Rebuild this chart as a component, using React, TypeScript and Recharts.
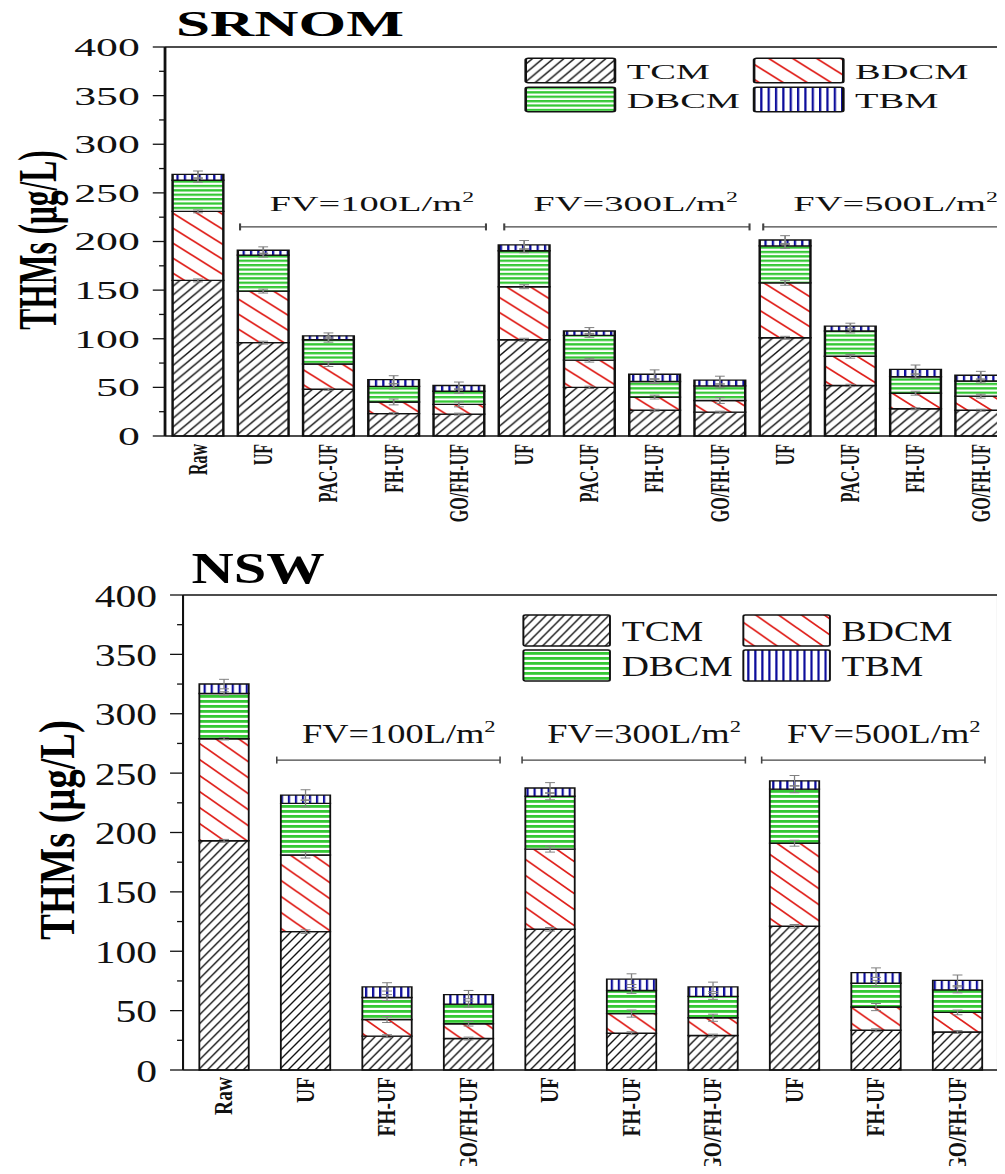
import React from 'react';
import { BarChart, Bar, XAxis, YAxis, ErrorBar, Legend, ReferenceLine } from 'recharts';

const serif = '"Liberation Serif", "DejaVu Serif", serif';

// SRNOM panel (top)
const srnomLabels = ['Raw', 'UF', 'PAC-UF', 'FH-UF', 'GO/FH-UF', 'UF', 'PAC-UF', 'FH-UF', 'GO/FH-UF', 'UF', 'PAC-UF', 'FH-UF', 'GO/FH-UF'];
const srnomTCM = [160, 96, 48, 23, 22.5, 99, 50, 26.5, 24.5, 101, 52, 28, 26.5];
const srnomBDCM = [71, 53, 26, 12, 10, 54.5, 28, 13.5, 12, 56.5, 30, 16, 14.5];
const srnomDBCM = [32, 37, 25, 16, 13.5, 37, 25.5, 16, 15, 38, 26, 17, 15.5];
const srnomTBM = [6, 5, 4, 7, 6, 6, 4.5, 7.5, 6, 6, 5, 7.5, 6];
const srnomErrTCM = [1.5, 1.5, 1, 1, 1, 1.5, 1.2, 1, 1, 1.5, 1.2, 1, 1];
const srnomErrBDCM = [1.5, 2, 2.5, 3, 2.5, 2, 2, 2, 3, 2.5, 2, 2, 2];
const srnomErrDBCM = [2, 2, 2.5, 2.5, 2, 2, 2, 2, 2, 2.5, 2, 2, 2];
const srnomErrTBM = [3.5, 3.5, 3, 4, 3.5, 4.5, 3.5, 4.5, 4, 4.5, 3, 4.5, 4];

// NSW panel (bottom)
const nswLabels = ['Raw', 'UF', 'FH-UF', 'GO/FH-UF', 'UF', 'FH-UF', 'GO/FH-UF', 'UF', 'FH-UF', 'GO/FH-UF'];
const nswTCM = [193, 116.5, 28.5, 26.5, 118.5, 31, 29, 121, 33.5, 32];
const nswBDCM = [86, 64.5, 14, 12.5, 67.5, 16.5, 15, 70, 19.5, 16.5];
const nswDBCM = [38, 43.5, 18.5, 16.5, 44.5, 19.5, 18, 45.5, 20, 19];
const nswTBM = [8, 7, 9, 8, 7, 9.5, 8, 7, 9, 8];
const nswErrTCM = [1.2, 1.5, 1.2, 1.2, 1.5, 1.2, 1.2, 1.5, 1.2, 1.2];
const nswErrBDCM = [1, 2.5, 2.5, 2, 2.5, 3, 3, 2.5, 3, 2];
const nswErrDBCM = [1.5, 3, 2.5, 2.5, 3, 2.5, 2.5, 3, 2.5, 2.5];
const nswErrTBM = [4, 4.5, 3.5, 3.5, 4.5, 4.5, 4, 4.5, 4, 4.5];

// axis ticks (major every 50, minor every 25)
const yTicks = [0, 25, 50, 75, 100, 125, 150, 175, 200, 225, 250, 275, 300, 325, 350, 375, 400];

// filtration volume groups, bracket ends on a 0..n category scale
const fvGroups = ['100', '300', '500'];
const srnomGroupStart = [1.15, 5.2, 9.17];
const srnomGroupEnd = [4.92, 8.96, 12.96];
const srnomBracketY = 215;
const nswGroupStart = [1.15, 4.16, 7.1];
const nswGroupEnd = [3.89, 6.9, 9.84];
const nswBracketY = 261;

function buildRows(labels, tcm, bdcm, dbcm, tbm, eT, eB, eD, eM) {
  return labels.map((label, i) => ({
    id: 'c' + i,
    slot: i,
    label,
    TCM: tcm[i],
    BDCM: bdcm[i],
    DBCM: dbcm[i],
    TBM: tbm[i],
    eTCM: eT[i],
    eBDCM: eB[i],
    eDBCM: eD[i],
    eTBM: eM[i],
  }));
}

const srnom = {
  p: 'sr',
  stretch: 1.75,
  rows: buildRows(srnomLabels, srnomTCM, srnomBDCM, srnomDBCM, srnomTBM, srnomErrTCM, srnomErrBDCM, srnomErrDBCM, srnomErrTBM),
  starts: srnomGroupStart,
  ends: srnomGroupEnd,
  bracketY: srnomBracketY,
  width: 600,
  height: 530,
  margin: { top: 47, right: 21.1, bottom: 0, left: 34.3 },
  yAxisWidth: 60,
  xAxisHeight: 94,
  gap: '11.6%',
  major: 7,
  minor: 3.4,
  tickGap: 7.4,
  tickFs: 25,
  xFs: 16,
  xGap: 8,
  errW: 2.8,
  title: 'SRNOM',
  titleX: 165.7,
  titleY: 36,
  titleFs: 35,
  yLabelX: 21.7,
  yLabelY: 240,
  yLabelFs: 31.5,
  fvFs: 22,
  fvLift: 16.3,
  fvDx: 5,
  bracketTick: 3.5,
  pat: { tW: 6, tH: 8.8, tSw: 1.0, bW: 13.7, bH: 15, bSw: 1.4, dP: 4.4, dS: 2.3, mP: 4.2, mS: 1.3 },
  legend: { left: 300, top: 56, w: 260, h: 60, colX: [0.4, 130.9], rowY: [2.3, 31.3], boxW: 51, boxH: 24.4, textDx: 57.7, baseDy: 21, fs: 22 },
};

const nsw = {
  p: 'ns',
  stretch: 1.3,
  rows: buildRows(nswLabels, nswTCM, nswBDCM, nswDBCM, nswTBM, nswErrTCM, nswErrBDCM, nswErrDBCM, nswErrTBM),
  starts: nswGroupStart,
  ends: nswGroupEnd,
  bracketY: nswBracketY,
  width: 780,
  height: 634,
  margin: { top: 55, right: 12.3, bottom: 0, left: 70.8 },
  yAxisWidth: 70,
  xAxisHeight: 104,
  gap: '20%',
  major: 10,
  minor: 4.6,
  tickGap: 10,
  tickFs: 32,
  xFs: 19.5,
  xGap: 7,
  errW: 3.8,
  title: 'NSW',
  titleX: 198.5,
  titleY: 43,
  titleFs: 45,
  yLabelX: 43.8,
  yLabelY: 290,
  yLabelFs: 38.5,
  fvFs: 28,
  fvLift: 17.3,
  fvDx: 8,
  bracketTick: 3.5,
  pat: { tW: 6.9, tH: 9, tSw: 1.2, bW: 17.6, bH: 16, bSw: 1.6, dP: 5, dS: 2.8, mP: 5.4, mS: 1.7 },
  legend: { left: 402, top: 72, w: 330, h: 72, colX: [0.6, 169.8], rowY: [3, 38], boxW: 66.6, boxH: 31, textDx: 75.6, baseDy: 25.7, fs: 29 },
};

const series = ['TCM', 'BDCM', 'DBCM', 'TBM'];

function Patterns({ p, pat }) {
  const { tW, tH, bW, bH } = pat;
  return (
    <defs>
      <pattern id={`${p}-tcm`} patternUnits="userSpaceOnUse" width={tW} height={tH}>
        <rect width={tW} height={tH} fill="#fff" />
        <path
          d={`M0,${tH} L${tW},0 M${-tW / 4},${tH / 4} L${tW / 4},${-tH / 4} M${(3 * tW) / 4},${(5 * tH) / 4} L${(5 * tW) / 4},${(3 * tH) / 4}`}
          stroke="#111"
          strokeWidth={pat.tSw}
        />
      </pattern>
      <pattern id={`${p}-bdcm`} patternUnits="userSpaceOnUse" width={bW} height={bH}>
        <rect width={bW} height={bH} fill="#fff" />
        <path
          d={`M0,0 L${bW},${bH} M${-bW / 4},${(3 * bH) / 4} L${bW / 4},${(5 * bH) / 4} M${(3 * bW) / 4},${-bH / 4} L${(5 * bW) / 4},${bH / 4}`}
          stroke="#e0201b"
          strokeWidth={pat.bSw}
        />
      </pattern>
      <pattern id={`${p}-dbcm`} patternUnits="userSpaceOnUse" width={4} height={pat.dP}>
        <rect width={4} height={pat.dP} fill="#fff" />
        <rect width={4} height={pat.dS} fill="#35c835" />
      </pattern>
      <pattern id={`${p}-tbm`} patternUnits="userSpaceOnUse" width={pat.mP} height={4}>
        <rect width={pat.mP} height={4} fill="#fff" />
        <rect width={pat.mS} height={4} fill="#0d0d9c" />
      </pattern>
    </defs>
  );
}

function YTick(props) {
  const { x, y, payload, cfg } = props;
  const isMajor = payload.value % 50 === 0;
  return (
    <g>
      <line x1={x - (isMajor ? cfg.major : cfg.minor)} x2={x} y1={y} y2={y} stroke="#111" strokeWidth={1.3} />
      {isMajor && (
        <text x={x - cfg.major - cfg.tickGap} y={y} dy="0.36em" textAnchor="end" fontSize={cfg.tickFs} fontFamily={serif} fill="#111">
          {payload.value}
        </text>
      )}
    </g>
  );
}

function XTick(props) {
  const { x, y, payload, cfg } = props;
  const row = cfg.rows.find((r) => r.id === payload.value);
  return (
    <text
      transform={`translate(${x},${y}) rotate(-90)`}
      textAnchor="end"
      dominantBaseline="central"
      fontSize={cfg.xFs}
      fontWeight="bold"
      fontFamily={serif}
      fill="#111"
    >
      {row ? row.label : ''}
    </text>
  );
}

function Bracket(props) {
  const { x1, y1, x2, y2, tick } = props;
  return (
    <g stroke="#444" strokeWidth={1.2}>
      <line x1={x1} y1={y1} x2={x2} y2={y2} />
      <line x1={x1} y1={y1 - tick} x2={x1} y2={y1 + tick} />
      <line x1={x2} y1={y2 - tick} x2={x2} y2={y2 + tick} />
    </g>
  );
}

function FVLabel(props) {
  const { viewBox, text, fs, dx, lift } = props;
  if (!viewBox) return null;
  const { x, y, width } = viewBox;
  return (
    <text x={x + width / 2 + dx} y={y - lift} textAnchor="middle" fontSize={fs} fontFamily={serif} fill="#111">
      {text}
      <tspan dy={-fs * 0.38} fontSize={fs * 0.62}>2</tspan>
    </text>
  );
}

function PatternLegend({ payload, cfg }) {
  const L = cfg.legend;
  const items = [...(payload || [])].sort((a, b) => series.indexOf(a.dataKey) - series.indexOf(b.dataKey));
  return (
    <svg width={L.w} height={L.h} style={{ display: 'block', overflow: 'visible' }}>
      {items.map((entry, i) => {
        const bx = L.colX[i % 2];
        const by = L.rowY[Math.floor(i / 2)];
        return (
          <g key={entry.value}>
            <rect x={bx} y={by} width={L.boxW} height={L.boxH} rx={1.5} fill={entry.color} stroke="#111" strokeWidth={1.5} />
            <text x={bx + L.textDx} y={by + L.baseDy} fontSize={L.fs} fontFamily={serif} fill="#111">
              {entry.value}
            </text>
          </g>
        );
      })}
    </svg>
  );
}

function Panel({ cfg }) {
  const n = cfg.rows.length;
  return (
    <BarChart width={cfg.width} height={cfg.height} data={cfg.rows} margin={cfg.margin} barCategoryGap={cfg.gap}>
      <Patterns p={cfg.p} pat={cfg.pat} />
      <XAxis
        xAxisId="cat"
        dataKey="id"
        interval={0}
        height={cfg.xAxisHeight}
        tickSize={0}
        tickMargin={cfg.xGap}
        tickLine={false}
        axisLine={{ stroke: '#111', strokeWidth: 1.5 }}
        tick={(tp) => <XTick {...tp} cfg={cfg} />}
      />
      <XAxis xAxisId="num" dataKey="slot" type="number" domain={[0, n]} ticks={[0, n]} allowDataOverflow hide />
      <YAxis
        yAxisId="main"
        width={cfg.yAxisWidth}
        domain={[0, 400]}
        ticks={yTicks}
        interval={0}
        tickSize={0}
        tickMargin={0}
        tickLine={false}
        axisLine={{ stroke: '#111', strokeWidth: 1.6 }}
        tick={(tp) => <YTick {...tp} cfg={cfg} />}
      />
      <ReferenceLine xAxisId="cat" yAxisId="main" y={400} stroke="#111" strokeWidth={1.5} ifOverflow="visible" />
      <ReferenceLine xAxisId="num" yAxisId="main" x={n} stroke="#111" strokeWidth={1.6} ifOverflow="visible" />
      {series.map((s) => (
        <Bar
          key={s}
          dataKey={s}
          name={s}
          stackId="thm"
          xAxisId="cat"
          yAxisId="main"
          fill={`url(#${cfg.p}-${s.toLowerCase()})`}
          stroke="#111"
          strokeWidth={1.4}
          isAnimationActive={false}
        >
          <ErrorBar dataKey={'e' + s} width={cfg.errW} stroke="#808080" strokeWidth={1} />
        </Bar>
      ))}
      {fvGroups.map((g, i) => (
        <ReferenceLine
          key={g}
          xAxisId="num"
          yAxisId="main"
          segment={[
            { x: cfg.starts[i], y: cfg.bracketY },
            { x: cfg.ends[i], y: cfg.bracketY },
          ]}
          ifOverflow="visible"
          shape={(sp) => <Bracket {...sp} tick={cfg.bracketTick} />}
          label={(lp) => <FVLabel {...lp} text={`FV=${g}L/m`} fs={cfg.fvFs} dx={cfg.fvDx} lift={cfg.fvLift} />}
        />
      ))}
      <Legend
        layout="horizontal"
        verticalAlign="middle"
        align="center"
        wrapperStyle={{ left: cfg.legend.left, top: cfg.legend.top, width: cfg.legend.w, height: cfg.legend.h }}
        content={(lp) => <PatternLegend payload={lp.payload} cfg={cfg} />}
      />
      <text x={cfg.titleX} y={cfg.titleY} textAnchor="middle" fontSize={cfg.titleFs} fontWeight="bold" fontFamily={serif} fill="#000">
        {cfg.title}
      </text>
      <text
        transform={`translate(${cfg.yLabelX},${cfg.yLabelY}) rotate(-90)`}
        textAnchor="middle"
        dominantBaseline="central"
        fontSize={cfg.yLabelFs}
        fontWeight="bold"
        fontFamily={serif}
        fill="#000"
      >
        THMs (μg/L)
      </text>
    </BarChart>
  );
}

export default function App() {
  return (
    <div style={{ position: 'relative', width: 1005, height: 1174, margin: -8, overflow: 'hidden', background: '#fff' }}>
      <div style={{ position: 'absolute', left: 0, top: 0, transform: `scaleX(${srnom.stretch})`, transformOrigin: '0 0' }}>
        <Panel cfg={srnom} />
      </div>
      <div style={{ position: 'absolute', left: 0, top: 540, transform: `scaleX(${nsw.stretch})`, transformOrigin: '0 0' }}>
        <Panel cfg={nsw} />
      </div>
    </div>
  );
}
